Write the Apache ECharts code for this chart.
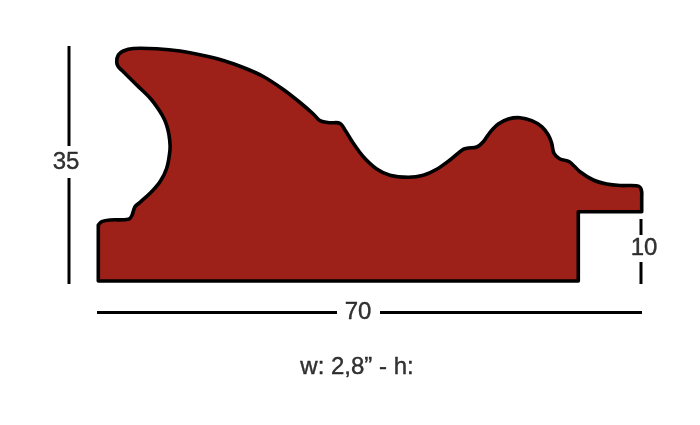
<!DOCTYPE html>
<html><head><meta charset="utf-8">
<style>html,body{margin:0;padding:0;background:#fff}#c{width:700px;height:425px}</style>
<script src="https://cdn.jsdelivr.net/npm/echarts@6/dist/echarts.min.js"></script>
</head><body><div id="c"></div>
<script>
// Profile outline (drawing units, origin at the lower-left corner).
// Repeated points mark sharp corners.
const outlineX = [20.3,25.3,35.3,58.7,82,105.3,125.3,145.3,165.3,185.3,202,215.3,222,232,242,247,255.3,265.3,278.7,292,310.3,325.3,338.7,352,365.3,370.3,378.7,385.3,392,400.3,410.3,422,433.7,443.7,450.3,453.7,456,462,471.3,482,495.3,508.7,522,538.7,542.3,543.7,543.7,543.7,543.7,480.3,480.3,480.3,480.3,0.3,0.3,0.3,0.3,3.7,12,30.3,33.7,37,42,52,62,68.7,72,71.7,70,66.7,61,52,38.7,25.3,20.3,18.7];
const outlineY = [226,230,232.5,232.2,230,225.5,220.5,213.5,204.5,191.5,178.5,167,160.3,158.3,157.7,151,137.7,124.3,112,105.7,103.7,105.7,111.7,121,131.7,133,134,139.3,148.7,157,162,163.3,160.3,154.3,146,137.7,127.7,122,119.3,109.3,101,97,95.5,95.3,93.5,89,84,69.3,69.3,69.3,69.3,0,0,0,0,56,56,59.3,61,61.7,65,74.3,78.7,87.7,99.3,112.7,131,141,151,161,171,183,196,209.3,214.3,219];
// Dimension lines: [x1, y1, x2, y2]
const dimLines = [
  [-29,235,-29,135],[-29,103,-29,-3],
  [-1,-31.5,239,-31.5],[282,-31.5,544,-31.5],
  [543,62,543,46],[543,19,543,-3]
];
// Dimension labels and caption
const labelText = ['35','70','10'];
const labelX = [-32,260,546];
const labelY = [119,-31,33];
const captionText = 'w: 2,8\u201d - h:';
const captionX = 259, captionY = -86;

const rows = outlineX.map((x,i)=>[x,outlineY[i]]);
function renderProfile(params, api){
  if(params.dataIndex!==0) return null;
  const p = rows.map(r=>api.coord(r)), n = p.length;
  const f = v=>v.toFixed(2);
  const same=(a,b)=>Math.abs(a[0]-b[0])<1e-6&&Math.abs(a[1]-b[1])<1e-6;
  const dir=i=>{
    const a=p[(i-1+n)%n], b=p[i], c=p[(i+1)%n];
    if(same(a,b)||same(b,c)) return [0,0];
    const dx=c[0]-a[0], dy=c[1]-a[1], l=Math.hypot(dx,dy)||1;
    return [dx/l,dy/l];
  };
  let d = 'M'+f(p[0][0])+' '+f(p[0][1]);
  for(let i=0;i<n;i++){
    const j=(i+1)%n, b=p[i], c=p[j];
    if(same(b,c)) continue;
    const l=Math.hypot(c[0]-b[0],c[1]-b[1])/3, t1=dir(i), t2=dir(j);
    d += 'C'+f(b[0]+t1[0]*l)+' '+f(b[1]+t1[1]*l)+' '+f(c[0]-t2[0]*l)+' '+f(c[1]-t2[1]*l)+' '+f(c[0])+' '+f(c[1]);
  }
  d+='Z';
  return {type:'path',shape:{pathData:d},style:{fill:'#9d2118',stroke:'#000',lineWidth:3.6,lineJoin:'round'}};
}
const textStyle = {color:'#000',textBorderColor:'#000',textBorderWidth:0.4,fontFamily:'"Liberation Sans",Arial,sans-serif',fontSize:24};
const series = [{type:'custom',data:rows,renderItem:renderProfile,silent:true,animation:false,clip:false}];
dimLines.forEach(s=>series.push({type:'line',data:[[s[0],s[1]],[s[2],s[3]]],symbol:'none',silent:true,animation:false,lineStyle:{color:'#000',width:3,cap:'butt'}}));
series.push({type:'scatter',symbolSize:0,silent:true,animation:false,
  data:labelText.map((t,i)=>({value:[labelX[i],labelY[i]],name:t})),
  label:{show:true,position:'inside',formatter:'{b}',...textStyle}});
series.push({type:'scatter',symbolSize:0,silent:true,animation:false,
  data:[{value:[captionX,captionY],name:captionText}],
  label:{show:true,position:'inside',formatter:'{b}',...textStyle}});
const chart = echarts.init(document.getElementById('c'),null,{renderer:'canvas'});
chart.setOption({
  animation:false,backgroundColor:'#fff',
  grid:{left:0,right:0,top:0,bottom:0},
  xAxis:{type:'value',min:-98,max:602,show:false},
  yAxis:{type:'value',min:-144,max:281,show:false},
  series
});
</script></body></html>
